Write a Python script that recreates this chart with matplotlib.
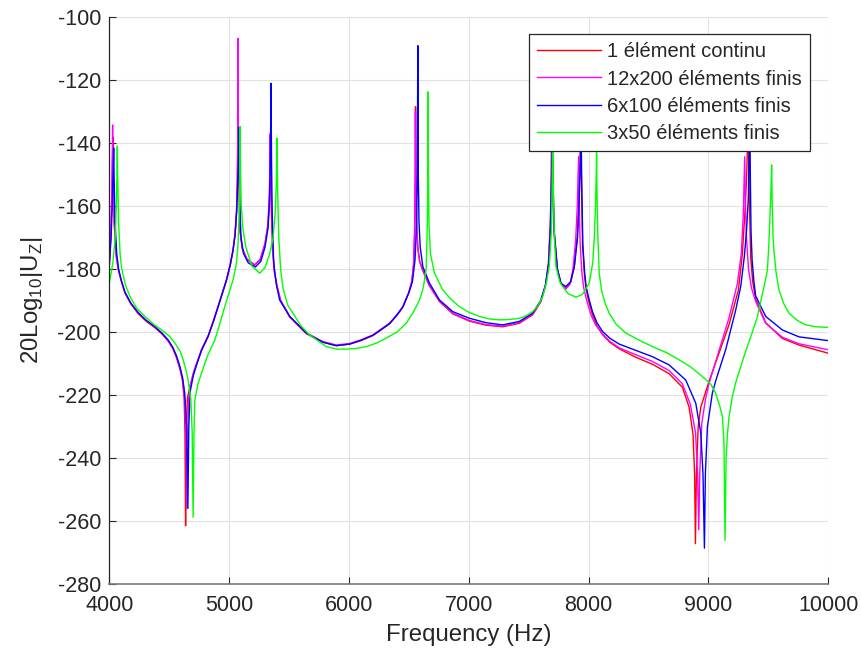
import matplotlib
matplotlib.use("Agg")
import matplotlib.pyplot as plt

plt.rcParams['font.family'] = ['Liberation Sans', 'DejaVu Sans']
plt.rcParams['mathtext.fontset'] = 'custom'
plt.rcParams['mathtext.rm'] = 'Liberation Sans'
plt.rcParams['axes.unicode_minus'] = False

# ---------------- data (frequency Hz, 20log10|Uz| dB) ----------------
labels = ["1 élément continu", "12x200 éléments finis", "6x100 éléments finis", "3x50 éléments finis"]
colors = ["#ff0000", "#ff00ff", "#0000ff", "#00ff00"]

red = [(4000,-178),(4012,-170),(4020,-160),(4026,-148),(4030,-138),(4034,-150),(4042,-165),(4060,-176),(4075,-180),(4100,-183.8),(4131,-187.6),(4180,-191),(4242,-194.2),(4310,-196.6),(4381,-198.6),(4440,-200.6),(4492,-202.9),(4530,-205.2),(4562,-208.2),(4590,-211.7),(4610,-215.2),(4625,-221),(4632,-232),(4637,-261.5),(4643,-232),(4652,-221),(4672,-217.5),(4700,-213.5),(4728,-210.2),(4770,-205.7),(4825,-201.4),(4870,-196.5),(4908,-192),(4945,-187.6),(4978,-183.6),(5010,-178.7),(5033,-174),(5050,-169),(5062,-162),(5069,-152),(5073,-140),(5075,-125.6),(5078,-140),(5083,-155),(5091,-168),(5110,-173.5),(5150,-177),(5214,-178.7),(5260,-177),(5300,-172),(5325,-166),(5337,-157),(5342,-148),(5345,-136.8),(5349,-148),(5355,-162),(5365,-174),(5380,-181),(5400,-185.5),(5430,-190),(5506,-195.2),(5645,-200.5),(5783,-203.2),(5895,-204.3),(6006,-203.8),(6100,-202.7),(6200,-201.1),(6339,-197.4),(6400,-194.7),(6450,-192.1),(6500,-187.5),(6525,-184),(6540,-178.5),(6549,-168),(6554,-150),(6556,-128.4),(6559,-148),(6565,-165),(6575,-173),(6590,-177.5),(6617,-180.5),(6672,-185.3),(6756,-190.3),(6867,-194.2),(7006,-196.5),(7145,-197.8),(7283,-198.3),(7422,-197.2),(7533,-194.5),(7600,-190.5),(7640,-185.5),(7665,-178.5),(7681,-166),(7690,-150),(7695,-125),(7700,-150),(7712,-168),(7740,-180),(7770,-184.5),(7811,-186),(7850,-184.3),(7880,-179.5),(7905,-170),(7920,-158),(7930,-145),(7935,-132),(7940,-150),(7950,-172),(7965,-181.5),(7978,-186),(8000,-190),(8033,-194.5),(8070,-198),(8117,-200.8),(8180,-203.3),(8256,-205.3),(8395,-208),(8533,-210.2),(8672,-213.2),(8783,-217.5),(8839,-223.8),(8872,-232.5),(8885,-245),(8892,-267.2),(8900,-245),(8915,-230),(8937,-223.8),(9006,-215.6),(9089,-206.6),(9172,-197.7),(9250,-186.7),(9283,-175.5),(9305,-162),(9320,-150),(9328,-138),(9333,-127),(9338,-150),(9345,-163),(9353,-176),(9370,-184),(9395,-189.5),(9478,-197),(9617,-202),(9756,-204.1),(10000,-206.7)]

magenta = [(4000,-178.5),(4012,-170.5),(4019,-160),(4024,-148),(4028,-134.2),(4032,-150),(4040,-165),(4058,-176),(4075,-180),(4100,-183.6),(4131,-187.4),(4180,-190.8),(4242,-194),(4310,-196.4),(4381,-198.4),(4440,-200.4),(4492,-202.7),(4530,-205),(4562,-208),(4592,-211.7),(4615,-215.5),(4630,-221.5),(4640,-233),(4647,-256),(4653,-233),(4662,-221.5),(4676,-217),(4700,-213.2),(4728,-210),(4770,-205.5),(4825,-201.2),(4870,-196.3),(4908,-191.8),(4945,-187.4),(4978,-183.4),(5010,-178.5),(5033,-173.8),(5050,-168.8),(5062,-161.5),(5069,-151),(5072,-138),(5075,-106.7),(5078,-138),(5083,-154),(5091,-167.5),(5110,-173.3),(5150,-176.8),(5214,-178.6),(5260,-176.8),(5300,-171.8),(5325,-165.5),(5336,-156),(5340,-148),(5343,-137.5),(5347,-148),(5353,-162),(5363,-174),(5378,-181),(5400,-185.3),(5430,-189.8),(5506,-195),(5645,-200.3),(5783,-203),(5895,-204.1),(6006,-203.6),(6100,-202.5),(6200,-200.9),(6339,-197.2),(6400,-194.5),(6450,-191.9),(6500,-187.3),(6525,-183.8),(6540,-178.3),(6548,-168),(6553,-150),(6555,-130),(6558,-148),(6564,-165),(6574,-173),(6589,-177.3),(6617,-180.3),(6672,-185.1),(6756,-190.1),(6867,-194),(7006,-196.3),(7145,-197.6),(7283,-198.1),(7422,-197),(7533,-194.3),(7600,-190.3),(7640,-185.3),(7665,-178.3),(7681,-166),(7689,-150),(7694,-120),(7699,-150),(7711,-168),(7740,-180),(7770,-184.6),(7811,-186.3),(7845,-184.8),(7870,-180),(7892,-171),(7906,-160),(7913,-150),(7917,-144.2),(7921,-158),(7930,-172),(7945,-181.5),(7960,-186),(7985,-190),(8020,-194.5),(8060,-197.8),(8117,-200.6),(8180,-203),(8256,-205),(8395,-207.2),(8533,-209.3),(8672,-212.2),(8783,-216.4),(8850,-223),(8893,-232),(8910,-245),(8920,-262.8),(8928,-245),(8945,-229),(8975,-221.5),(9006,-216.2),(9089,-205.8),(9172,-195.5),(9242,-184.6),(9275,-175),(9292,-162),(9298,-152),(9303,-144.3),(9308,-158),(9318,-170),(9335,-180),(9360,-186),(9395,-190.3),(9478,-197.2),(9617,-201.6),(9756,-203.7),(10000,-205.6)]

blue = [(4000,-179),(4015,-170),(4025,-160),(4032,-150),(4037,-141.5),(4041,-152),(4048,-165),(4062,-175),(4078,-180),(4100,-183.5),(4131,-187.3),(4180,-190.8),(4242,-193.8),(4310,-196.3),(4381,-198.3),(4440,-200.3),(4492,-202.5),(4530,-204.8),(4562,-207.6),(4590,-211),(4612,-214.5),(4630,-219.5),(4645,-230),(4656,-256),(4664,-230),(4675,-219),(4700,-214),(4728,-210.5),(4770,-205.8),(4825,-201.3),(4870,-196.5),(4908,-192),(4945,-187.5),(4978,-183.5),(5010,-178.5),(5033,-174),(5050,-169),(5063,-162),(5072,-153),(5078,-145),(5082,-135),(5086,-150),(5092,-163),(5100,-170),(5120,-175),(5160,-178),(5220,-179.3),(5265,-177.5),(5300,-173),(5325,-167),(5338,-158),(5345,-143),(5350,-121),(5354,-145),(5360,-163),(5372,-178),(5395,-185),(5422,-189.8),(5506,-195),(5645,-200.3),(5783,-203.2),(5895,-204.3),(6006,-203.8),(6100,-202.6),(6200,-201),(6339,-197.3),(6400,-194.6),(6450,-192),(6500,-187.5),(6530,-184),(6552,-177),(6565,-165),(6571,-150),(6575,-109),(6579,-150),(6585,-165),(6595,-173),(6617,-179.2),(6672,-184.4),(6756,-189.8),(6867,-193.5),(7006,-195.6),(7145,-197),(7283,-197.7),(7422,-196.6),(7533,-194),(7600,-190),(7640,-185),(7668,-178),(7683,-166),(7692,-150),(7697,-128),(7702,-150),(7714,-168),(7740,-180),(7770,-184.5),(7811,-185.5),(7850,-184),(7882,-179),(7908,-170),(7922,-158),(7932,-145),(7937,-128),(7942,-150),(7952,-172),(7967,-181),(7980,-185.5),(8000,-189),(8033,-193.5),(8070,-197),(8117,-199.8),(8180,-202),(8256,-203.8),(8395,-205.8),(8533,-207.8),(8672,-210.4),(8811,-215.2),(8895,-222.6),(8937,-232.1),(8955,-245),(8967,-268.6),(8975,-245),(8992,-230),(9033,-219.4),(9061,-215.5),(9117,-208.8),(9145,-205.5),(9200,-197.2),(9228,-193),(9270,-185.5),(9300,-176),(9318,-168),(9333,-158),(9340,-145),(9345,-125),(9350,-150),(9356,-168),(9365,-177),(9380,-184),(9395,-188.5),(9478,-195),(9617,-199.3),(9756,-201.5),(10000,-202.7)]

green = [(4000,-184.5),(4030,-178),(4050,-170),(4060,-158),(4065,-148),(4067,-140.9),(4070,-150),(4078,-165),(4090,-175),(4103,-179.7),(4135,-185),(4173,-188.7),(4230,-192.5),(4298,-195),(4370,-197.5),(4437,-199.3),(4500,-201.2),(4548,-203.5),(4590,-206),(4617,-208.8),(4640,-212),(4658,-215.2),(4681,-221.5),(4692,-232),(4700,-258.8),(4707,-232),(4714,-221.5),(4740,-216.5),(4770,-213),(4820,-207.5),(4881,-202.5),(4925,-197),(4964,-191.9),(5000,-187.5),(5033,-183.4),(5060,-178.5),(5075,-172),(5084,-162),(5089,-152),(5092,-134.7),(5096,-150),(5102,-160),(5115,-167),(5140,-173),(5190,-179),(5256,-181.3),(5300,-179.5),(5340,-175),(5367,-170),(5385,-162),(5395,-152),(5400,-138.4),(5405,-155),(5415,-170),(5430,-180),(5450,-186),(5490,-191.5),(5533,-194),(5600,-198),(5672,-200.9),(5750,-203),(5811,-204.6),(5900,-205.4),(5978,-205.4),(6060,-205.2),(6145,-204.6),(6230,-203.5),(6311,-201.9),(6400,-200),(6478,-197.2),(6540,-193.5),(6589,-189.8),(6620,-186),(6645,-180),(6655,-165),(6660,-145),(6661,-123.7),(6663,-145),(6668,-165),(6680,-175),(6714,-181.3),(6783,-186.6),(6850,-189.5),(6922,-191.9),(7000,-193.7),(7089,-195),(7170,-195.8),(7256,-196.1),(7340,-196),(7422,-195.6),(7480,-194.8),(7533,-193.5),(7580,-191.5),(7617,-188.7),(7650,-184),(7672,-179.2),(7690,-168),(7697,-150),(7700,-130),(7705,-152),(7715,-170),(7728,-179.2),(7760,-184),(7783,-185.5),(7830,-187.8),(7895,-188.9),(7950,-188),(8006,-184.4),(8035,-178),(8047,-170.7),(8058,-160),(8064,-150),(8067,-143),(8070,-155),(8078,-170),(8089,-181.3),(8110,-187),(8140,-191),(8172,-194),(8230,-197.5),(8311,-200.3),(8420,-202.5),(8533,-204.6),(8650,-206.5),(8756,-208.8),(8850,-211),(8950,-214.1),(9020,-216.5),(9061,-219.4),(9095,-223.5),(9117,-226.8),(9130,-235),(9139,-266.2),(9148,-240),(9160,-232),(9172,-227),(9200,-220.5),(9228,-216),(9312,-206),(9367,-200),(9410,-195),(9436,-190.5),(9470,-184.5),(9492,-180.5),(9505,-172),(9514,-163.3),(9522,-155),(9528,-146.9),(9533,-160),(9540,-170),(9547,-174),(9565,-181),(9589,-186.6),(9630,-191),(9672,-194),(9740,-196.2),(9811,-197.7),(9900,-198.3),(10000,-198.5)]

series = [red, magenta, blue, green]

x_ticks = [4000, 5000, 6000, 7000, 8000, 9000, 10000]
y_ticks = [-280, -260, -240, -220, -200, -180, -160, -140, -120, -100]

# ---------------- figure ----------------
fig = plt.figure(figsize=(8.61, 6.55), dpi=100)
ax = fig.add_axes([0.1269, 0.1084, 0.8350, 0.8652])

for data, c, lab in zip(series, colors, labels):
    f, d = zip(*data)
    ax.plot(f, d, color=c, lw=1.0, label=lab)

ax.set_xlim(4000, 10000)
ax.set_ylim(-280, -100)
ax.set_xticks(x_ticks)
ax.set_yticks(y_ticks)
ax.grid(True, color='#e1e1e1', lw=0.8)
ax.set_axisbelow(True)

for s in ['top', 'right']:
    ax.spines[s].set_visible(False)
ax.spines['left'].set_color('#262626')
ax.spines['bottom'].set_color('#7a7a7a')
ax.spines['left'].set_linewidth(0.9)
ax.spines['bottom'].set_linewidth(1.2)
ax.tick_params(direction='in', length=5, width=0.8, colors='#262626',
               labelsize=15.5)
ax.tick_params(axis='x', pad=8)
ax.tick_params(axis='y', pad=6)

ax.set_xlabel('Frequency (Hz)', fontsize=17.3, color='#262626', labelpad=6)
ax.set_ylabel(r'20Log$_{\mathregular{10}}$|U$_{\mathregular{Z}}$|', fontsize=17.3,
              color='#262626', labelpad=9)

leg = ax.legend(loc='upper right', bbox_to_anchor=(810/861, (655-34)/655),
                bbox_transform=fig.transFigure, fontsize=14.5, frameon=True,
                fancybox=False, framealpha=1, edgecolor='#262626',
                handlelength=3.2, handletextpad=0.3, labelspacing=0.42,
                borderpad=0.4, borderaxespad=0)
leg.get_frame().set_linewidth(0.9)
for t in leg.get_texts():
    t.set_color('#262626')

fig.savefig('out.png', dpi=100)
